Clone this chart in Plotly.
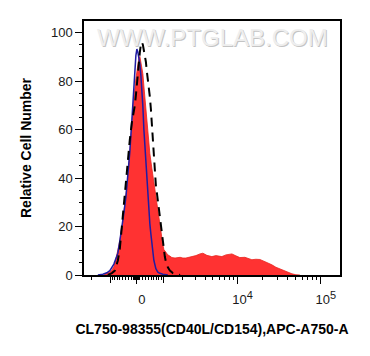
import numpy as np
import plotly.graph_objects as go

# ---- data (fluorescence intensity, relative cell number) ----
red_x = [-1297, -1151, -1015, -927, -843, -761, -682, -605, -529, -456, -383, -312, -242, -172, -103, -34,
         0, 34, 69, 103, 137, 172, 207, 242, 277, 312, 347, 383, 456, 529, 605, 682, 761, 843, 927, 970,
         1015, 1105, 1198, 1297, 1397, 1565, 1727, 1860, 2039, 2244, 2544, 2785, 3048, 3433, 3746, 4206,
         4583, 4854, 5439, 6091, 6444, 7209, 8066, 8529, 9535, 10635, 12247, 13312, 14874, 16618, 18566,
         20738, 23169, 25878, 28908, 32328, 36071, 40291, 45009, 50265, 56155]
red_y = [0, 0.5, 1.2, 2.0, 3.5, 6.5, 10, 14.2, 19, 26, 33, 40, 51, 63, 73, 81,
         84, 87.5, 89.5, 90.2, 88, 86.5, 83, 78, 73, 68, 63, 58, 50, 44, 38, 32, 26.6, 21, 16, 12.5,
         10.5, 9.3, 8.3, 7.8, 7.2, 7.0, 7.2, 7.3, 7.0, 7.0, 7.4, 7.6, 8.0, 8.7, 9.0, 8.1,
         7.7, 7.6, 8.0, 7.8, 7.6, 8.3, 8.7, 8.7, 7.9, 7.2, 7.3, 7.0, 6.3, 6.5, 6.4,
         5.7, 5.0, 4.2, 3.2, 2.5, 1.7, 1.0, 0.5, 0.1, 0]

blue_x = [-1612, -1346, -1151, -1015, -843, -761, -682, -605, -529, -456, -383, -312, -242, -172, -103,
          -69, -34, 0, 34, 69, 103, 137, 172, 207, 242, 277, 312, 347, 383, 419, 456, 492, 529, 567,
          605, 682, 761, 843, 970, 1198]
blue_y = [0, 0.3, 0.9, 1.8, 4.5, 6.5, 9.0, 14.2, 19, 25.5, 32, 40, 51, 64, 78,
          85.8, 90.5, 93.2, 92, 89.5, 87, 82.5, 77, 69.5, 60, 53, 46, 40, 33.5, 27, 21, 17, 13, 8.5,
          6, 2.6, 1.2, 0.7, 0.3, 0]

dash_x = [-1105, -1015, -927, -802, -682, -605, -529, -456, -383, -312, -242, -172, -103, -69, -34,
          0, 34, 69, 103, 137, 172, 207, 242, 277, 312, 347, 383, 419, 456, 492, 529, 567, 605, 643,
          682, 721, 761, 802, 843, 885, 927, 970, 1015, 1059, 1105, 1198, 1297, 1449, 1669, 1860]
dash_y = [0, 0.3, 0.8, 1.8, 6, 11, 19, 29, 38, 48, 56, 63, 67, 70, 74,
          79, 84, 88, 92, 95, 96.1, 95, 93, 91.3, 88, 84, 81, 77, 73.4, 68.6, 62, 55, 49, 43,
          37, 34, 30.5, 27.5, 25, 22.5, 19, 15, 11, 7.5, 5.5, 3.2, 1.8, 0.8, 0.3, 0]

x_labeled = [0, 10000, 100000]
x_labeled_text = ["0",
                  "10<sup><span style='font-size:11px'>4</span></sup>",
                  "10<sup><span style='font-size:11px'>5</span></sup>"]
x_unlabeled_major = [-1000, 1000]
x_range_data = [-2530, 170000]
y_ticks = [0, 20, 40, 60, 80, 100]
y_range = [0, 104.8]

x_title = "CL750-98355(CD40L/CD154),APC-A750-A"
y_title = "Relative Cell Number"
watermark = "WWW.PTGLAB.COM"

# ---- biexponential (arcsinh) display transform ----
W = 1241.0
def tf(v):
    return np.arcsinh(np.asarray(v, dtype=float) / W)

minor_vals = []
for k in range(1, 10):
    for dec in (10, 100, 1000, 10000):
        v = k * dec
        if v not in x_labeled and v not in x_unlabeled_major:
            minor_vals += [v, -v]
minor_vals = [v for v in minor_vals if x_range_data[0] <= v <= x_range_data[1]]

FONT = "Liberation Sans, Arial, sans-serif"
xr = list(tf(x_range_data))

fig = go.Figure()
fig.add_trace(go.Scatter(x=tf(red_x), y=red_y, mode="lines", fill="tozeroy",
                         fillcolor="rgb(255,50,50)", line=dict(color="rgb(232,36,30)", width=0.8),
                         showlegend=False, hoverinfo="skip"))
fig.add_trace(go.Scatter(x=tf(blue_x), y=blue_y, mode="lines",
                         line=dict(color="#1f1ca4", width=1.5), showlegend=False, hoverinfo="skip"))
fig.add_trace(go.Scatter(x=tf(dash_x), y=dash_y, mode="lines",
                         line=dict(color="black", width=2, dash="9px,6px"), showlegend=False,
                         hoverinfo="skip"))

# the page body has an 8px margin, so the figure is placed 8px in from the window corner
fig.update_layout(
    width=354, height=340,
    margin=dict(l=76, r=22, t=13, b=73, pad=0),
    paper_bgcolor="white", plot_bgcolor="white",
    font=dict(family=FONT, size=13, color="#1a1a1a"),
    xaxis=dict(
        range=xr, tickmode="array", tickvals=list(tf(x_labeled)),
        ticktext=x_labeled_text, ticks="outside", ticklen=7, tickwidth=1.2, tickcolor="black",
        ticklabelshift=5, ticklabelstandoff=5, automargin=False,
        minor=dict(tickmode="array", tickvals=list(tf(minor_vals)), ticks="outside",
                   ticklen=3.5, tickwidth=1, tickcolor="black"),
        showgrid=False, zeroline=False, showline=True, linecolor="black", linewidth=1.5,
        mirror=True,
        title=dict(text="<b>" + x_title + "</b>", font=dict(size=14, color="black"), standoff=18),
    ),
    xaxis2=dict(
        range=xr, overlaying="x", anchor="y", side="bottom", tickmode="array",
        tickvals=list(tf(x_unlabeled_major)), showticklabels=False, ticks="outside", ticklen=7,
        tickwidth=1.2, tickcolor="black", showgrid=False, zeroline=False, showline=False,
        automargin=False,
    ),
    yaxis=dict(
        range=y_range, tickmode="array", tickvals=y_ticks, ticks="outside", ticklen=7,
        tickwidth=1.2, tickcolor="black", automargin=False,
        minor=dict(dtick=5, ticks="outside", ticklen=3.5, tickwidth=1, tickcolor="black"),
        showgrid=False, zeroline=False, showline=True, linecolor="black", linewidth=1.5,
        mirror=True,
        title=dict(text="<b>" + y_title + "</b>", font=dict(size=14, color="black"), standoff=16),
    ),
)
# invisible helper trace so the overlaid axis is drawn
fig.add_trace(go.Scatter(x=[xr[0]], y=[y_range[0]], xaxis="x2", yaxis="y", mode="markers",
                         marker=dict(opacity=0), showlegend=False, hoverinfo="skip"))

fig.add_annotation(text=watermark, xref="paper", yref="paper", x=0.5, y=1, yanchor="top",
                   xanchor="center", xshift=1, yshift=-2, showarrow=False,
                   font=dict(family=FONT, size=24, color="#c4c4c4"))
fig.add_annotation(text=watermark, xref="paper", yref="paper", x=0.5, y=1, yanchor="top",
                   xanchor="center", xshift=0, yshift=-1, showarrow=False,
                   font=dict(family=FONT, size=24, color="#eeeeee"))

fig.write_html("out.html")
